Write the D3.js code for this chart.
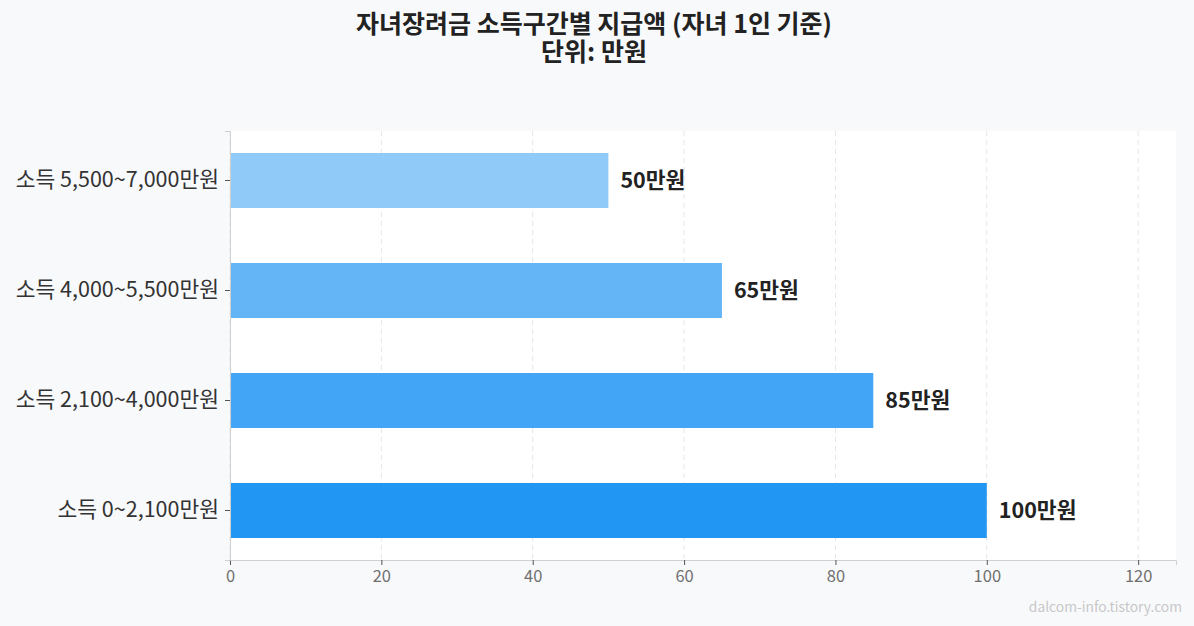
<!DOCTYPE html>
<html><head><meta charset="utf-8">
<script src="https://cdn.jsdelivr.net/npm/d3@7"></script>
<style>
body{margin:0;background:#f8f9fb;font-family:"Noto Sans CJK KR","Noto Sans",sans-serif;}
</style></head><body>
<svg id="c" width="1194" height="626"></svg>
<script>
const categories = ["소득 5,500~7,000만원","소득 4,000~5,500만원","소득 2,100~4,000만원","소득 0~2,100만원"];
const values = [50, 65, 85, 100];
const colors = ["#90CAF9","#64B5F6","#42A5F5","#2196F3"];
const xTicks = [0,20,40,60,80,100,120];

const svg = d3.select("#c");
const W=1194,H=626;
svg.append("rect").attr("width",W).attr("height",H).attr("fill","#f8f9fb");
const m={l:230,r:1176,t:131,b:560};
svg.append("rect").attr("x",m.l).attr("y",m.t).attr("width",m.r-m.l).attr("height",m.b-m.t).attr("fill","#fff");

const x=d3.scaleLinear().domain([0,125]).range([m.l,m.r]);
const y=d3.scaleBand().domain(categories).range([m.t,m.b]).paddingInner(0.5).paddingOuter(0.2);

// grid
svg.append("g").selectAll("line").data(xTicks).join("line")
 .attr("x1",d=>x(d)).attr("x2",d=>x(d)).attr("y1",m.t).attr("y2",m.b)
 .attr("stroke","#e6e6e6").attr("stroke-dasharray","5,4").attr("stroke-width",1);

// bars
svg.append("g").selectAll("rect").data(values).join("rect")
 .attr("x",x(0)).attr("y",(d,i)=>y(categories[i])).attr("width",d=>x(d)-x(0))
 .attr("height",y.bandwidth()).attr("fill",(d,i)=>colors[i]);

// value labels
svg.append("g").selectAll("text").data(values).join("text")
 .attr("x",d=>x(d)+12).attr("y",(d,i)=>y(categories[i])+y.bandwidth()/2)
 .attr("dy","0.35em").attr("font-size",21.5).attr("font-weight",700).attr("fill","#222")
 .text(d=>d+"만원");

// axes
const xa=svg.append("g").attr("transform",`translate(0,${m.b})`).call(d3.axisBottom(x).tickValues(xTicks).tickSize(5).tickPadding(5));
xa.select(".domain").attr("stroke","#d0d0d0");
xa.selectAll(".tick line").attr("stroke","#555");
xa.selectAll("text").attr("font-size",16.5).attr("fill","#707070").attr("font-family","Noto Sans CJK KR");

const ya=svg.append("g").attr("transform",`translate(${m.l},0)`).call(d3.axisLeft(y).tickSize(5).tickPadding(6));
ya.select(".domain").attr("stroke","#d0d0d0");
ya.selectAll(".tick line").attr("stroke","#555");
ya.selectAll("text").attr("font-size",21.5).attr("fill","#333").attr("font-family","Noto Sans CJK KR");

// title
svg.append("text").attr("x",594).attr("y",33).attr("text-anchor","middle").attr("font-size",25).attr("font-weight",700).attr("fill","#222").text("자녀장려금 소득구간별 지급액 (자녀 1인 기준)");
svg.append("text").attr("x",594).attr("y",61).attr("text-anchor","middle").attr("font-size",25).attr("font-weight",700).attr("fill","#222").text("단위: 만원");

svg.append("text").attr("x",1182).attr("y",612).attr("text-anchor","end").attr("font-size",13.8).attr("fill","#c8c8c8").text("dalcom-info.tistory.com");
</script></body></html>
